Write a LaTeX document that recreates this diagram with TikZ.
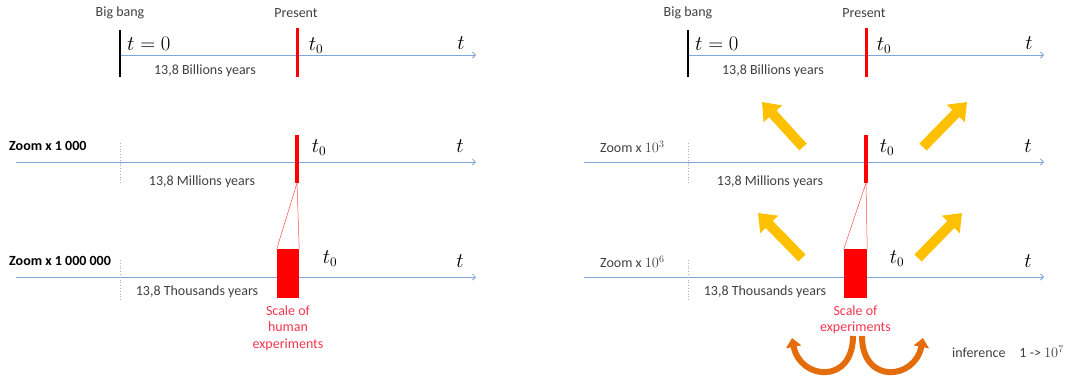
\documentclass[tikz,border=0pt]{standalone}
\usepackage{fontspec}
\setmainfont{Carlito}
\usepackage{graphicx}
\usepackage{xcolor}
\usepackage{tikz}
\usetikzlibrary{arrows.meta}

\definecolor{axisblue}{HTML}{7EA6DC}
\definecolor{txtgray}{HTML}{404040}
\definecolor{scalered}{HTML}{F5364F}
\definecolor{zoomgold}{HTML}{FFC000}
\definecolor{inforange}{HTML}{E46C0A}

\newcommand{\bigmath}[1]{\scalebox{1.2}{$#1$}}

\begin{document}
\begin{tikzpicture}[
        x=1pt, y=-1pt,
        lbl/.style={
            font=\fontsize{14}{16}\selectfont,
            text=txtgray,
            inner sep=0pt
        },
        zoomlbl/.style={
            lbl,
            font=\fontsize{14}{16}\selectfont\bfseries,
            text=black,
            anchor=west
        },
        mathlbl/.style={
            font=\fontsize{16}{18}\selectfont,
            inner sep=0pt
        },
        scalelbl/.style={
            lbl,
            text=scalered,
            align=center,
            font=\fontsize{14}{16.5}\selectfont
        },
        timeaxis/.style={
            draw=axisblue,
            line width=0.8pt,
            -{Straight Barb[length=3pt,width=6pt]}
        },
        bigtick/.style={
            draw=black,
            line width=2.5pt
        },
        nowtick/.style={
            draw=red,
            line width=3pt
        },
        ghosttick/.style={
            draw=gray!60,
            line width=0.8pt,
            dotted
        },
        scalebox/.style={
            draw=none,
            fill=red,
            minimum width=22pt,
            minimum height=49pt,
            inner sep=0pt
        },
        zoomline/.style={
            draw=red!70,
            line width=0.5pt
        },
        zoomarrow/.style={
            draw=zoomgold,
            line width=10pt,
            -{Triangle[length=16pt,width=24pt]}
        },
        infarrow/.style={
            draw=inforange,
            line width=6pt,
            -{Triangle[length=9pt,width=15pt]}
        }
    ]
    \useasboundingbox (0,0) rectangle (1076,376);

    % left panel
    \node[lbl] (bigbangL) at (120,13) {Big bang};
    \node[lbl] (presentL) at (296,13) {Present};
    \coordinate (bbTopL) at (120,30);
    \coordinate (bbBotL) at (120,77);
    \coordinate (nowTopL) at (297,28);
    \coordinate (nowBotL) at (297,77);
    \coordinate (axAstartL) at (120,55);
    \coordinate (axAendL) at (476,55);
    \draw[timeaxis] (axAstartL) -- (axAendL);
    \draw[bigtick] (bbTopL) -- (bbBotL);
    \draw[nowtick] (nowTopL) -- (nowBotL);
    \node[mathlbl, anchor=west] (tzeroL) at (127,44) {\bigmath{t=0}};
    \node[mathlbl] (tnowAL) at (316,46) {\bigmath{t_0}};
    \node[mathlbl] (tAL) at (461,43) {\bigmath{t}};
    \node[lbl] (billionsL) at (205,71) {13,8 Billions years};

    \node[zoomlbl] (zoomBL) at (9,146) {Zoom x 1 000};
    \coordinate (axBstartL) at (16,162);
    \coordinate (axBendL) at (476,162);
    \coordinate (ghostBtopL) at (120,143);
    \coordinate (ghostBbotL) at (120,184);
    \coordinate (barTopL) at (297,135);
    \coordinate (barBotL) at (297,183);
    \draw[timeaxis] (axBstartL) -- (axBendL);
    \draw[ghosttick] (ghostBtopL) -- (ghostBbotL);
    \draw[nowtick, line width=4pt] (barTopL) -- (barBotL);
    \node[mathlbl] (tnowBL) at (319,148) {\bigmath{t_0}};
    \node[mathlbl] (tBL) at (460,146) {\bigmath{t}};
    \node[lbl] (millionsL) at (202,182) {13,8 Millions years};

    \node[zoomlbl] (zoomCL) at (9,261) {Zoom x 1 000 000};
    \coordinate (axCstartL) at (16,277);
    \coordinate (axCendL) at (476,277);
    \coordinate (ghostCtopL) at (120,260);
    \coordinate (ghostCbotL) at (120,300);
    \draw[timeaxis] (axCstartL) -- (axCendL);
    \draw[ghosttick] (ghostCtopL) -- (ghostCbotL);
    \node[scalebox] (expL) at (288,273.5) {};
    \draw[zoomline] (barBotL) -- (expL.north west);
    \draw[zoomline] (barBotL) -- (expL.north east);
    \node[mathlbl] (tnowCL) at (330,259) {\bigmath{t_0}};
    \node[mathlbl] (tCL) at (460,261) {\bigmath{t}};
    \node[lbl] (thousandsL) at (197,292) {13,8 Thousands years};
    \node[scalelbl, below=7pt] (scaleL) at (expL.south) {Scale of\\human\\experiments};

    % right panel
    \node[lbl] (bigbangR) at (688,13) {Big bang};
    \node[lbl] (presentR) at (864,13) {Present};
    \coordinate (bbTopR) at (688,30);
    \coordinate (bbBotR) at (688,77);
    \coordinate (nowTopR) at (866,28);
    \coordinate (nowBotR) at (866,77);
    \coordinate (axAstartR) at (688,55);
    \coordinate (axAendR) at (1044,55);
    \draw[timeaxis] (axAstartR) -- (axAendR);
    \draw[bigtick] (bbTopR) -- (bbBotR);
    \draw[nowtick] (nowTopR) -- (nowBotR);
    \node[mathlbl, anchor=west] (tzeroR) at (695,44) {\bigmath{t=0}};
    \node[mathlbl] (tnowAR) at (884,46) {\bigmath{t_0}};
    \node[mathlbl] (tAR) at (1029,43) {\bigmath{t}};
    \node[lbl] (billionsR) at (773,71) {13,8 Billions years};

    \node[lbl, anchor=west] (zoomBR) at (600,147) {Zoom x $10^3$};
    \coordinate (axBstartR) at (584,162);
    \coordinate (axBendR) at (1044,162);
    \coordinate (ghostBtopR) at (688,143);
    \coordinate (ghostBbotR) at (688,184);
    \coordinate (barTopR) at (866,135);
    \coordinate (barBotR) at (866,183);
    \draw[timeaxis] (axBstartR) -- (axBendR);
    \draw[ghosttick] (ghostBtopR) -- (ghostBbotR);
    \draw[nowtick, line width=4pt] (barTopR) -- (barBotR);
    \node[mathlbl] (tnowBR) at (887,148) {\bigmath{t_0}};
    \node[mathlbl] (tBR) at (1028,146) {\bigmath{t}};
    \node[lbl] (millionsR) at (770,182) {13,8 Millions years};

    \node[lbl, anchor=west] (zoomCR) at (600,262) {Zoom x $10^6$};
    \coordinate (axCstartR) at (584,277);
    \coordinate (axCendR) at (1044,277);
    \coordinate (ghostCtopR) at (688,260);
    \coordinate (ghostCbotR) at (688,300);
    \draw[timeaxis] (axCstartR) -- (axCendR);
    \draw[ghosttick] (ghostCtopR) -- (ghostCbotR);
    \node[scalebox, minimum width=23pt] (expR) at (855.5,273.5) {};
    \draw[zoomline] (barBotR) -- (expR.north west);
    \draw[zoomline] (barBotR) -- (expR.north east);
    \node[mathlbl] (tnowCR) at (897,259) {\bigmath{t_0}};
    \node[mathlbl] (tCR) at (1028,261) {\bigmath{t}};
    \node[lbl] (thousandsR) at (765,292) {13,8 Thousands years};
    \node[scalelbl, below=7pt] (scaleR) at (expR.south) {Scale of\\experiments};

    % zoom-out arrows
    \coordinate (upLtail) at (803,147);
    \coordinate (upLhead) at (762,102);
    \coordinate (upRtail) at (923,147);
    \coordinate (upRhead) at (967,102);
    \coordinate (loLtail) at (802,258);
    \coordinate (loLhead) at (758,213);
    \coordinate (loRtail) at (918,258);
    \coordinate (loRhead) at (962,213);
    \draw[zoomarrow] (upLtail) -- (upLhead);
    \draw[zoomarrow] (upRtail) -- (upRhead);
    \draw[zoomarrow] (loLtail) -- (loLhead);
    \draw[zoomarrow] (loRtail) -- (loRhead);

    % inference
    \coordinate (infLstart) at (853,336);
    \coordinate (infLend) at (792,338);
    \coordinate (infRstart) at (862,336);
    \coordinate (infRend) at (923,338);
    \draw[infarrow] (infLstart) .. controls (853,385) and (800,380) .. (infLend);
    \draw[infarrow] (infRstart) .. controls (862,385) and (915,380) .. (infRend);
    \node[lbl, anchor=west] (inference) at (952,352) {inference\quad 1 -> $10^7$};

\end{tikzpicture}
\end{document}
